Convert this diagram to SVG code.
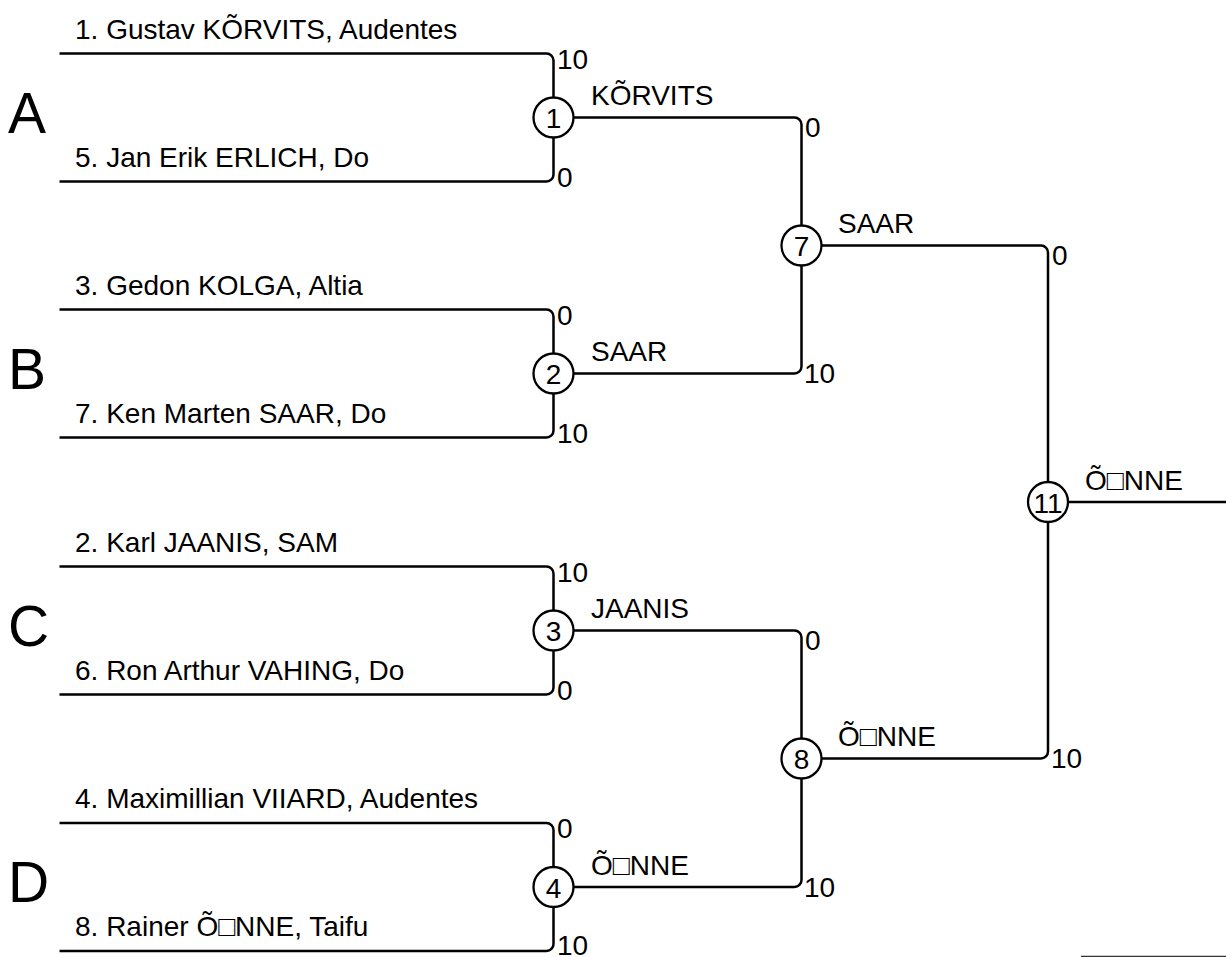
<svg xmlns="http://www.w3.org/2000/svg" width="1226" height="957" viewBox="0 0 1226 957">
<style>
text{font-family:"Liberation Sans",Arial,sans-serif;fill:#000}
.nm{font-size:28px}
.sc{font-size:28px}
.lb{font-size:28px}
.grp{font-size:57px}
.cn{font-size:28px;text-anchor:middle}
.ln{fill:none;stroke:#000;stroke-width:2.5}
.ci{fill:#fff;stroke:#000;stroke-width:2.3}
</style>
<rect width="1226" height="957" fill="#fff"/>
<g id="connectors">
<path class="ln" d="M59.5 53.5H546.5A7 7 0 0 1 553.5 60.5V97.5"/>
<path class="ln" d="M59.5 181.5H546.5A7 7 0 0 0 553.5 174.5V137.5"/>
<path class="ln" d="M59.5 309.5H546.5A7 7 0 0 1 553.5 316.5V353.5"/>
<path class="ln" d="M59.5 437.5H546.5A7 7 0 0 0 553.5 430.5V393.5"/>
<path class="ln" d="M59.5 566.5H546.5A7 7 0 0 1 553.5 573.5V610.5"/>
<path class="ln" d="M59.5 694.5H546.5A7 7 0 0 0 553.5 687.5V650.5"/>
<path class="ln" d="M59.5 823H546.5A7 7 0 0 1 553.5 830V867"/>
<path class="ln" d="M59.5 951H546.5A7 7 0 0 0 553.5 944V907"/>
<path class="ln" d="M573.5 117.5H794.5A7 7 0 0 1 801.5 124.5V225.5"/>
<path class="ln" d="M573.5 373.5H794.5A7 7 0 0 0 801.5 366.5V265.5"/>
<path class="ln" d="M573.5 630.5H794.5A7 7 0 0 1 801.5 637.5V738.5"/>
<path class="ln" d="M573.5 887H794.5A7 7 0 0 0 801.5 880V778.5"/>
<path class="ln" d="M821.5 245.5H1041A7 7 0 0 1 1048 252.5V482"/>
<path class="ln" d="M821.5 758.5H1041A7 7 0 0 0 1048 751.5V522"/>
<path class="ln" d="M1068 502H1226"/>
<path d="M1081 956.5H1226" stroke="#333" stroke-width="1.5" fill="none"/>
</g>
<g id="groups">
<text class="grp" x="8" y="132.5">A</text>
<text class="grp" x="8" y="388.5">B</text>
<text class="grp" x="8" y="645.5">C</text>
<text class="grp" x="8" y="902">D</text>
</g>
<g id="players">
<text class="nm" x="75" y="38.5">1. Gustav KÕRVITS, Audentes</text>
<text class="nm" x="75" y="166.5">5. Jan Erik ERLICH, Do</text>
<text class="nm" x="75" y="294.5">3. Gedon KOLGA, Altia</text>
<text class="nm" x="75" y="422.5">7. Ken Marten SAAR, Do</text>
<text class="nm" x="75" y="551.5">2. Karl JAANIS, SAM</text>
<text class="nm" x="75" y="679.5">6. Ron Arthur VAHING, Do</text>
<text class="nm" x="75" y="808">4. Maximillian VIIARD, Audentes</text>
<text class="nm" x="75" y="936">8. Rainer Õ□NNE, Taifu</text>
</g>
<g id="match1">
<circle class="ci" cx="553.5" cy="117.5" r="20"/>
<text class="cn" x="553.5" y="128">1</text>
<text class="sc" x="557" y="68.5">10</text>
<text class="sc" x="557" y="187">0</text>
<text class="lb" x="591" y="105">KÕRVITS</text>
</g>
<g id="match2">
<circle class="ci" cx="553.5" cy="373.5" r="20"/>
<text class="cn" x="553.5" y="384">2</text>
<text class="sc" x="557" y="324.5">0</text>
<text class="sc" x="557" y="443">10</text>
<text class="lb" x="591" y="361">SAAR</text>
</g>
<g id="match3">
<circle class="ci" cx="553.5" cy="630.5" r="20"/>
<text class="cn" x="553.5" y="641">3</text>
<text class="sc" x="557" y="581.5">10</text>
<text class="sc" x="557" y="700">0</text>
<text class="lb" x="591" y="618">JAANIS</text>
</g>
<g id="match4">
<circle class="ci" cx="553.5" cy="887" r="20"/>
<text class="cn" x="553.5" y="897.5">4</text>
<text class="sc" x="557" y="838">0</text>
<text class="sc" x="557" y="955">10</text>
<text class="lb" x="591" y="874.5">Õ□NNE</text>
</g>
<g id="match7">
<circle class="ci" cx="801.5" cy="245.5" r="20"/>
<text class="cn" x="801.5" y="256">7</text>
<text class="sc" x="805" y="136.5">0</text>
<text class="sc" x="804" y="383">10</text>
<text class="lb" x="838" y="233">SAAR</text>
</g>
<g id="match8">
<circle class="ci" cx="801.5" cy="758.5" r="20"/>
<text class="cn" x="801.5" y="769">8</text>
<text class="sc" x="805" y="649.5">0</text>
<text class="sc" x="804" y="896.5">10</text>
<text class="lb" x="838" y="746">Õ□NNE</text>
</g>
<g id="match11">
<circle class="ci" cx="1048" cy="502" r="20"/>
<text class="cn" x="1048" y="512.5">11</text>
<text class="sc" x="1052" y="264.5">0</text>
<text class="sc" x="1051" y="767.5">10</text>
<text class="lb" x="1085" y="489.5">Õ□NNE</text>
</g>
</svg>
